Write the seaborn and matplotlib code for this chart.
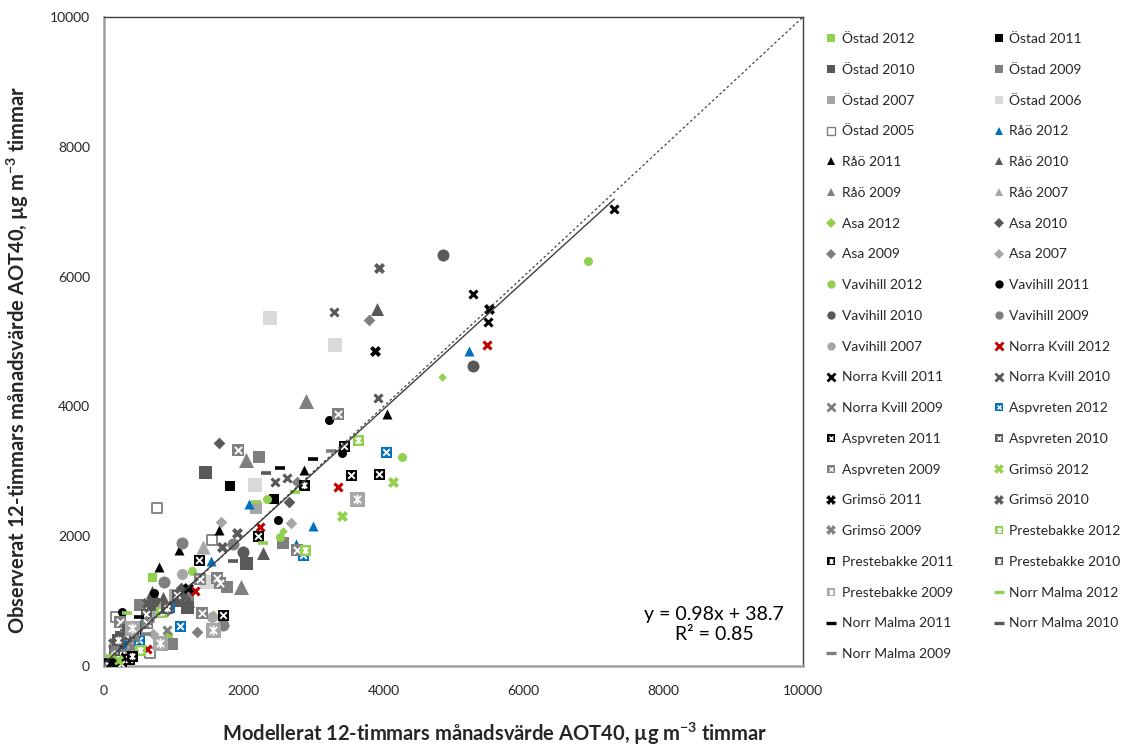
import numpy as np
import pandas as pd
import matplotlib
matplotlib.use("Agg")
import matplotlib.pyplot as plt
from matplotlib.lines import Line2D
from matplotlib.path import Path
import seaborn as sns

# ---------------------------------------------------------------------------
# Monthly 12-hour AOT40 values: modelled (x) vs observed (y), per station/year
# ---------------------------------------------------------------------------
ostad_2012_x = [682, 911, 150, 420]
ostad_2012_y = [1376, 452, 120, 300]
ostad_2011_x = [1803, 2437, 460, 300]
ostad_2011_y = [2779, 2573, 520, 330]
ostad_2010_x = [1445, 2032, 1016, 1183, 700, 250]
ostad_2010_y = [2994, 1592, 1017, 914, 950, 450]
ostad_2009_x = [2223, 2557, 1755, 515, 978, 1200, 300]
ostad_2009_y = [3216, 1890, 1212, 940, 339, 1100, 200]
ostad_2007_x = [2175, 648, 1020, 350]
ostad_2007_y = [2438, 750, 1100, 400]
ostad_2006_x = [2375, 3306, 2161, 1469]
ostad_2006_y = [5363, 4947, 2789, 1299]
ostad_2005_x = [754, 1550, 658, 172, 250]
ostad_2005_y = [2430, 1942, 196, 750, 150]

rao_2012_x = [5228, 2080, 2986, 1527, 2748, 550, 300]
rao_2012_y = [4854, 2491, 2162, 1623, 1880, 700, 350]
rao_2011_x = [4044, 1650, 1073, 792, 2861, 260]
rao_2011_y = [3878, 2096, 1788, 1521, 3020, 150]
rao_2010_x = [3902, 2271, 840, 682, 1200, 400]
rao_2010_y = [5497, 1747, 1043, 1145, 1000, 450]
rao_2009_x = [2886, 2028, 1956]
rao_2009_y = [4089, 3175, 1222]
rao_2007_x = [1412, 800, 450]
rao_2007_y = [1829, 900, 500]

asa_2012_x = [4832, 1565, 2560, 350]
asa_2012_y = [4458, 801, 2080, 150]
asa_2010_x = [1650, 2652, 1100, 500]
asa_2010_y = [3431, 2522, 1200, 600]
asa_2009_x = [3792, 2761, 1326, 900]
asa_2009_y = [5332, 2841, 529, 850]
asa_2007_x = [1670, 2676, 700]
asa_2007_y = [2224, 2199, 500]

vavihill_2012_x = [6925, 4269, 2337, 1264, 2520, 229]
vavihill_2012_y = [6241, 3226, 2568, 1469, 1980, 46]
vavihill_2011_x = [3220, 3411, 2484, 720, 262]
vavihill_2011_y = [3791, 3277, 2250, 1120, 837]
vavihill_2010_x = [4850, 5285, 1984, 1100]
vavihill_2010_y = [6334, 4628, 1762, 1100]
vavihill_2009_x = [1841, 1120, 859, 1698]
vavihill_2009_y = [1880, 1900, 1299, 632]
vavihill_2007_x = [1112, 777, 1541, 400]
vavihill_2007_y = [1413, 324, 760, 300]

kvill_2012_x = [5480, 3343, 2232, 1302, 611]
kvill_2012_y = [4947, 2753, 2147, 1160, 257]
kvill_2011_x = [7300, 5272, 5490]
kvill_2011_y = [7043, 5732, 5296]
kvill_2010_x = [3291, 3916, 2447, 2614]
kvill_2010_y = [5455, 4125, 2830, 2891]
kvill_2009_x = [897, 400]
kvill_2009_y = [555, 300]

aspvreten_2012_x = [4030, 2843, 935, 1087, 500]
aspvreten_2012_y = [3293, 1711, 914, 621, 400]
aspvreten_2011_x = [3440, 3534, 3935, 2199, 1359, 1698, 362, 250]
aspvreten_2011_y = [3390, 2943, 2953, 2008, 1633, 781, 108, 30]
aspvreten_2010_x = [1040, 600, 300, 150]
aspvreten_2010_y = [1094, 800, 500, 250]
aspvreten_2009_x = [3353, 1913, 2757, 1374, 1612, 1660, 1407, 229, 611]
aspvreten_2009_y = [3878, 3329, 1788, 1341, 1361, 1274, 822, 683, 658]

grimso_2012_x = [4140, 3401, 200, 500]
grimso_2012_y = [2841, 2311, 100, 250]
grimso_2011_x = [5509, 3878, 1207, 100]
grimso_2011_y = [5497, 4859, 1197, 50]
grimso_2010_x = [3934, 1899, 1684, 611, 133]
grimso_2010_y = [6134, 2055, 1838, 976, 350]
grimso_2009_x = [300, 150, 450]
grimso_2009_y = [600, 300, 450]

prestebakke_2012_x = [3630, 2876, 811, 515]
prestebakke_2012_y = [3483, 1788, 837, 247]
prestebakke_2011_x = [2862, 400]
prestebakke_2011_y = [2789, 150]
prestebakke_2010_x = [350, 900, 200]
prestebakke_2010_y = [550, 900, 400]
prestebakke_2009_x = [3616, 1565, 396, 800]
prestebakke_2009_y = [2568, 555, 581, 350]

malma_2012_x = [2733, 2175, 2271, 325, 100]
malma_2012_y = [2676, 2532, 1890, 811, 150]
malma_2011_x = [2519, 2986, 501, 70]
malma_2011_y = [3046, 3190, 760, 92]
malma_2010_x = [2318, 1841]
malma_2010_y = [2969, 1623]
malma_2009_x = [3244, 600]
malma_2009_y = [3318, 500]

# Linear fit shown on the chart
fit_slope = 0.98
fit_intercept = 38.7
fit_r2 = 0.85

axis_ticks = [0, 2000, 4000, 6000, 8000, 10000]

# ---------------------------------------------------------------------------
# Styles
# ---------------------------------------------------------------------------
GREEN, BLACK, DARK, MID, LIGHT, PALE = "#92D050", "#000000", "#595959", "#7F7F7F", "#A6A6A6", "#D9D9D9"
BLUE, RED = "#0070C0", "#C00000"

# Excel-style "star": an x with a vertical bar
STAR = Path([(0, -1), (0, 1), (-0.75, -0.75), (0.75, 0.75), (-0.75, 0.75), (0.75, -0.75)],
            [Path.MOVETO, Path.LINETO, Path.MOVETO, Path.LINETO, Path.MOVETO, Path.LINETO])

series = [
    ("Östad 2012", ostad_2012_x, ostad_2012_y, "sq", GREEN, 9),
    ("Östad 2011", ostad_2011_x, ostad_2011_y, "sq", BLACK, 10),
    ("Östad 2010", ostad_2010_x, ostad_2010_y, "sq", DARK, 13),
    ("Östad 2009", ostad_2009_x, ostad_2009_y, "sq", MID, 12),
    ("Östad 2007", ostad_2007_x, ostad_2007_y, "sq", LIGHT, 12),
    ("Östad 2006", ostad_2006_x, ostad_2006_y, "sq", PALE, 14),
    ("Östad 2005", ostad_2005_x, ostad_2005_y, "hollow", MID, 10),
    ("Råö 2012", rao_2012_x, rao_2012_y, "tri", BLUE, 10),
    ("Råö 2011", rao_2011_x, rao_2011_y, "tri", BLACK, 10),
    ("Råö 2010", rao_2010_x, rao_2010_y, "tri", DARK, 13),
    ("Råö 2009", rao_2009_x, rao_2009_y, "tri", MID, 15),
    ("Råö 2007", rao_2007_x, rao_2007_y, "tri", LIGHT, 14),
    ("Asa 2012", asa_2012_x, asa_2012_y, "dia", GREEN, 8),
    ("Asa 2010", asa_2010_x, asa_2010_y, "dia", DARK, 11),
    ("Asa 2009", asa_2009_x, asa_2009_y, "dia", MID, 11),
    ("Asa 2007", asa_2007_x, asa_2007_y, "dia", LIGHT, 11),
    ("Vavihill 2012", vavihill_2012_x, vavihill_2012_y, "circ", GREEN, 9),
    ("Vavihill 2011", vavihill_2011_x, vavihill_2011_y, "circ", BLACK, 9),
    ("Vavihill 2010", vavihill_2010_x, vavihill_2010_y, "circ", DARK, 12),
    ("Vavihill 2009", vavihill_2009_x, vavihill_2009_y, "circ", MID, 12),
    ("Vavihill 2007", vavihill_2007_x, vavihill_2007_y, "circ", LIGHT, 11),
    ("Norra Kvill 2012", kvill_2012_x, kvill_2012_y, "x", RED, 10),
    ("Norra Kvill 2011", kvill_2011_x, kvill_2011_y, "x", BLACK, 10),
    ("Norra Kvill 2010", kvill_2010_x, kvill_2010_y, "x", DARK, 10),
    ("Norra Kvill 2009", kvill_2009_x, kvill_2009_y, "x", MID, 10),
    ("Aspvreten 2012", aspvreten_2012_x, aspvreten_2012_y, "sqx", BLUE, 11),
    ("Aspvreten 2011", aspvreten_2011_x, aspvreten_2011_y, "sqx", BLACK, 11),
    ("Aspvreten 2010", aspvreten_2010_x, aspvreten_2010_y, "sqx", DARK, 11),
    ("Aspvreten 2009", aspvreten_2009_x, aspvreten_2009_y, "sqx", MID, 12),
    ("Grimsö 2012", grimso_2012_x, grimso_2012_y, "bow", GREEN, 11),
    ("Grimsö 2011", grimso_2011_x, grimso_2011_y, "bow", BLACK, 11),
    ("Grimsö 2010", grimso_2010_x, grimso_2010_y, "bow", DARK, 11),
    ("Grimsö 2009", grimso_2009_x, grimso_2009_y, "bow", MID, 11),
    ("Prestebakke 2012", prestebakke_2012_x, prestebakke_2012_y, "sqs", GREEN, 11),
    ("Prestebakke 2011", prestebakke_2011_x, prestebakke_2011_y, "sqs", BLACK, 11),
    ("Prestebakke 2010", prestebakke_2010_x, prestebakke_2010_y, "sqs", DARK, 12),
    ("Prestebakke 2009", prestebakke_2009_x, prestebakke_2009_y, "sqs", LIGHT, 15),
    ("Norr Malma 2012", malma_2012_x, malma_2012_y, "dash", GREEN, 10),
    ("Norr Malma 2011", malma_2011_x, malma_2011_y, "dash", BLACK, 10),
    ("Norr Malma 2010", malma_2010_x, malma_2010_y, "dash", DARK, 10),
    ("Norr Malma 2009", malma_2009_x, malma_2009_y, "dash", MID, 10),
]

# ---------------------------------------------------------------------------
sns.set_theme(style="white")
plt.rcParams["font.family"] = ["Lato", "DejaVu Sans"]
plt.rcParams["mathtext.default"] = "regular"

fig = plt.figure(figsize=(11.22, 7.47), dpi=100)
ax = fig.add_axes([104 / 1122, 1 - 666 / 747, (803 - 104) / 1122, (666 - 17) / 747])

PX = 0.72  # points per pixel


def area(px):
    return (px * PX) ** 2


def draw(xs, ys, kind, color, size):
    df = pd.DataFrame({"x": xs, "y": ys})
    common = dict(data=df, x="x", y="y", ax=ax, legend=False, zorder=3)
    if kind == "sq":
        sns.scatterplot(marker="s", s=area(size), color=color, linewidth=0, **common)
    elif kind == "hollow":
        sns.scatterplot(marker="s", s=area(size), color="white", edgecolor=color, linewidth=1.3, **common)
    elif kind == "tri":
        sns.scatterplot(marker="^", s=area(size), color=color, linewidth=0, **common)
    elif kind == "dia":
        sns.scatterplot(marker="D", s=area(size * 0.75), color=color, linewidth=0, **common)
    elif kind == "circ":
        sns.scatterplot(marker="o", s=area(size), color=color, linewidth=0, **common)
    elif kind == "x":
        sns.scatterplot(marker="x", s=area(size * 0.8), color=color, linewidth=2.2, **common)
    elif kind == "bow":
        sns.scatterplot(marker="X", s=area(size), color=color, linewidth=0, **common)
    elif kind == "sqx":
        sns.scatterplot(marker="s", s=area(size), color=color, linewidth=0, **common)
        sns.scatterplot(marker="x", s=area(size * 0.6), color="white", linewidth=1.4, **common)
    elif kind == "sqs":
        sns.scatterplot(marker="s", s=area(size), color=color, linewidth=0, **common)
        sns.scatterplot(marker=STAR, s=area(size * 0.65), color="white", edgecolor="white",
                        linewidth=1.3, **common)
    elif kind == "dash":
        sns.scatterplot(marker="_", s=area(size), color=color, linewidth=2.6, **common)


def handle(kind, color):
    ms = 6.0
    if kind == "sq":
        return Line2D([], [], marker="s", ls="none", color=color, markersize=ms, markeredgewidth=0)
    if kind == "hollow":
        return Line2D([], [], marker="s", ls="none", markerfacecolor="white", markeredgecolor=color,
                      markersize=ms, markeredgewidth=1.0)
    if kind == "tri":
        return Line2D([], [], marker="^", ls="none", color=color, markersize=ms, markeredgewidth=0)
    if kind == "dia":
        return Line2D([], [], marker="D", ls="none", color=color, markersize=ms * 0.8, markeredgewidth=0)
    if kind == "circ":
        return Line2D([], [], marker="o", ls="none", color=color, markersize=ms, markeredgewidth=0)
    if kind == "x":
        return Line2D([], [], marker="x", ls="none", color=color, markersize=ms * 0.9, markeredgewidth=2)
    if kind == "bow":
        return Line2D([], [], marker="X", ls="none", color=color, markersize=ms * 1.1, markeredgewidth=0)
    if kind == "sqx":
        return (Line2D([], [], marker="s", ls="none", color=color, markersize=ms, markeredgewidth=0),
                Line2D([], [], marker="x", ls="none", color="white", markersize=ms * 0.6, markeredgewidth=1))
    if kind == "sqs":
        return (Line2D([], [], marker="s", ls="none", color=color, markersize=ms, markeredgewidth=0),
                Line2D([], [], marker=STAR, ls="none", color="white", markersize=ms * 0.65, markeredgewidth=1))
    return Line2D([], [], marker="_", ls="none", color=color, markersize=ms * 1.3, markeredgewidth=2.4)


handles, labels = [], []
for label, xs, ys, kind, color, size in series:
    draw(xs, ys, kind, color, size)
    handles.append(handle(kind, color))
    labels.append(label)

# 1:1 reference line and linear fit
sns.lineplot(x=[0, 10000], y=[0, 10000], ax=ax, color="#404040", linewidth=0.9,
             linestyle=(0, (2, 2)), zorder=4)
all_x = np.concatenate([np.asarray(s[1], dtype=float) for s in series])
fit_x = np.array([0.0, all_x.max()])
fit_y = fit_slope * fit_x + fit_intercept
sns.lineplot(x=fit_x, y=fit_y, ax=ax, color="#404040", linewidth=1.0, zorder=4)

ax.text(8727, 640, f"y = {fit_slope:.2f}x + {fit_intercept:.1f}\nR² = {fit_r2:.2f}",
        ha="center", va="center", fontsize=14, color="black", linespacing=1.28, zorder=5)

# Axes
ax.set_xlim(0, 10000)
ax.set_ylim(0, 10000)
ax.set_xticks(axis_ticks)
ax.set_yticks(axis_ticks)
ax.tick_params(direction="in", length=5, width=1, color="#808080", labelsize=10)
ax.tick_params(axis="x", pad=14)
ax.tick_params(axis="y", pad=10)
for side in ("left", "bottom"):
    ax.spines[side].set_color("#A0A0A0")
    ax.spines[side].set_linewidth(1.8)
for side in ("top", "right"):
    ax.spines[side].set_color("#404040")
    ax.spines[side].set_linewidth(1.0)

ax.set_xlabel("Modellerat 12-timmars månadsvärde AOT40, µg m$^{-3}$ timmar",
              fontsize=14.5, fontweight="bold")
ax.set_ylabel("Observerat 12-timmars månadsvärde AOT40, µg m$^{-3}$ timmar",
              fontsize=14.5, fontweight="bold")
ax.xaxis.set_label_coords((495 - 104) / 699, (666 - 721) / 649)
ax.yaxis.set_label_coords((31 - 104) / 699, (666 - 360) / 649)

# Legend in row-major order across two columns
order_h = handles[0::2] + handles[1::2]
order_l = labels[0::2] + labels[1::2]
fig.legend(order_h, order_l, ncol=2, loc="upper left", bbox_to_anchor=(0.731, 0.963),
           frameon=False, fontsize=10, labelspacing=1.35, columnspacing=2.9,
           handlelength=0.8, handletextpad=0.35, borderaxespad=0)

fig.savefig("out.png", dpi=100, facecolor="white")
